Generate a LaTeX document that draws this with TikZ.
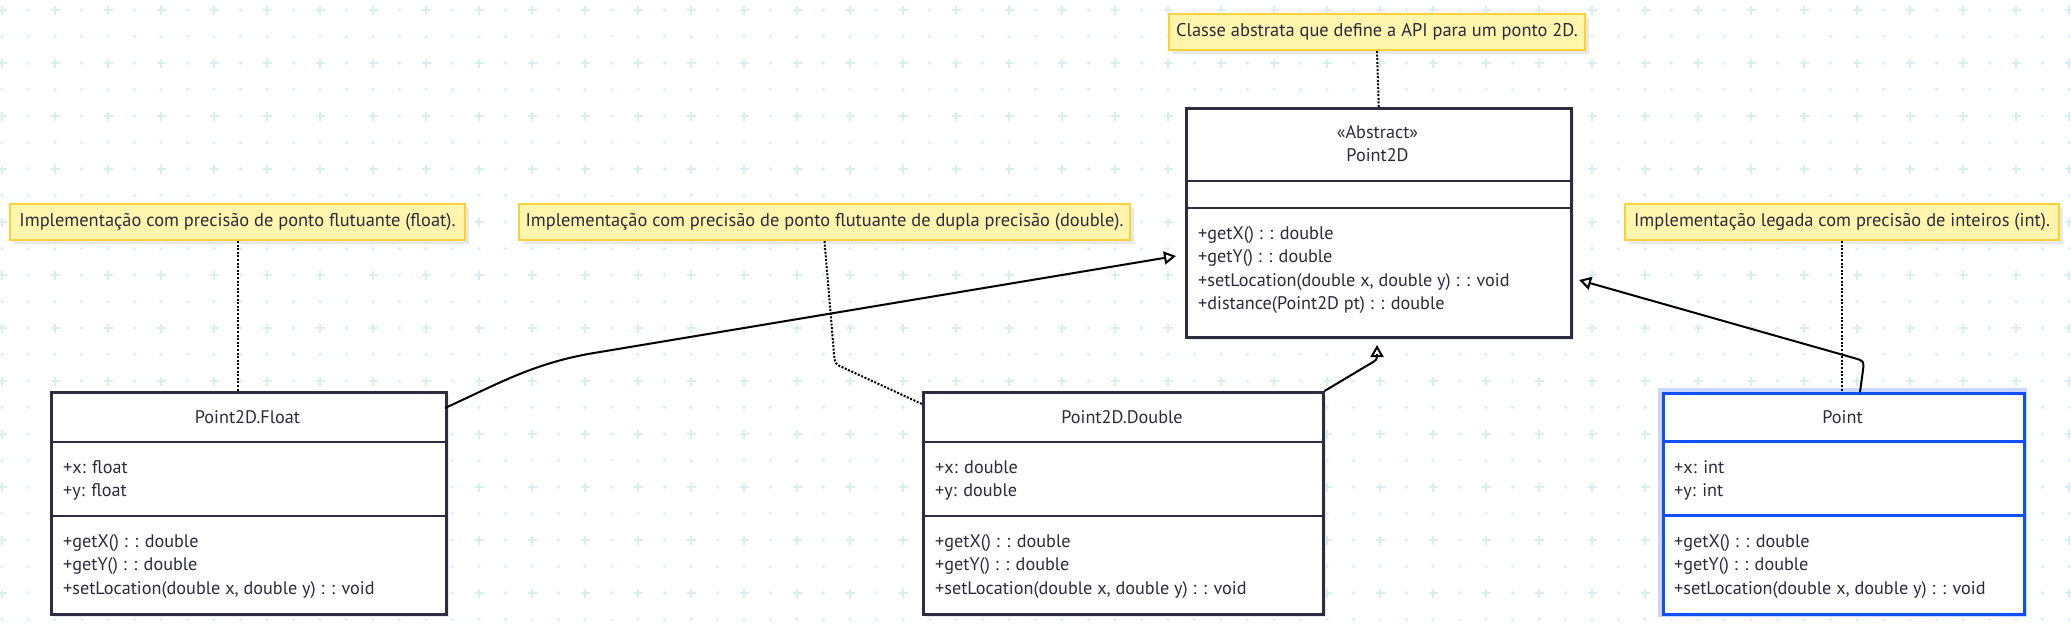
\documentclass[tikz,border=0pt]{standalone}
\usepackage{fontspec}
\setmainfont{PT Sans}
\usetikzlibrary{arrows.meta}
\definecolor{gridc}{HTML}{D8EEF1}
\definecolor{notefill}{HTML}{FFF5AD}
\definecolor{noteborder}{HTML}{F7D23A}
\definecolor{ink}{HTML}{2C2B3C}
\definecolor{boxline}{HTML}{2E2C40}
\definecolor{pblue}{HTML}{1050F5}
\begin{document}
\begin{tikzpicture}[x=1pt,y=-1pt,
  font=\fontsize{18.2}{21}\selectfont,
  txt/.style={text=ink, inner sep=0pt, anchor=west, text height=12.5pt, text depth=4pt},
  ctxt/.style={text=ink, inner sep=0pt, anchor=center, text height=12.5pt, text depth=4pt},
  umlbox/.style={draw=boxline, line width=2.5pt, fill=white, anchor=north west, inner sep=0pt},
  notebox/.style={draw=noteborder, line width=2pt, fill=notefill, text=ink, inner sep=0pt, minimum height=36pt, anchor=center, font=\fontsize{18.4}{21}\selectfont},
  shadowc/.style={fill=black!9},
  divider/.style={draw=boxline, line width=2.5pt},
  inh/.style={draw=black, line width=2pt, -{Triangle[open, length=12pt, width=13pt, line width=2pt]}},
  noteline/.style={draw=black, line width=2pt, dash pattern=on 2pt off 1.6pt}
]
\useasboundingbox (0,0) rectangle (2071,633);
\fill[white] (0,0) rectangle (2071,633);
% background grid
\foreach \i in {0,...,39} {
  \foreach \j in {0,...,11} {
    \pgfmathsetmacro{\gx}{2+53*\i}
    \pgfmathsetmacro{\gy}{10+53*\j}
    \draw[gridc, line width=2.2pt] (\gx-4.5,\gy) -- (\gx+4.5,\gy) (\gx,\gy-4.5) -- (\gx,\gy+4.5);
    \fill[gridc] (\gx+26.5,\gy) circle (1.7);
    \fill[gridc] (\gx,\gy+26.5) circle (1.7);
    \fill[gridc] (\gx+26.5,\gy+26.5) circle (1.7);
  }
}
% shadows
\fill[shadowc] (1189,111) rectangle (1574,340);
\fill[shadowc] (54,395) rectangle (449,617);
\fill[shadowc] (926,395) rectangle (1326,617);
\fill[shadowc] (1666,396) rectangle (2027,617);
\fill[shadowc] (1173,18) rectangle (1589,54);
\fill[shadowc] (14,208) rectangle (469,244);
\fill[shadowc] (523,208) rectangle (1134,244);
\fill[shadowc] (1629,208) rectangle (2063,244);

% notes
\node[notebox, minimum width=416pt] (tnote) at (1377,32) {Classe abstrata que define a API para um ponto 2D.};
\node[notebox, minimum width=455pt] (fnote) at (237.5,222) {Implementação com precisão de ponto flutuante (float).};
\node[notebox, minimum width=611pt] (dnote) at (824.5,222) {Implementação com precisão de ponto flutuante de dupla precisão (double).};
\node[notebox, minimum width=434pt] (pnote) at (1842,222) {Implementação legada com precisão de inteiros (int).};

% Point2D
\node[umlbox, minimum width=385pt, minimum height=229pt] (p2d) at (1185,107) {};
\draw[divider] (1185,181) -- (1570,181);
\draw[divider] (1185,208) -- (1570,208);
\node[ctxt] (p2dst) at (1377.5,134) {«Abstract»};
\node[ctxt] (p2dname) at (1377.5,157) {Point2D};
\node[txt] (p2dm1) at (1198,235) {+getX() : : double};
\node[txt] (p2dm2) at (1198,258) {+getY() : : double};
\node[txt] (p2dm3) at (1198,282) {+setLocation(double x, double y) : : void};
\node[txt] (p2dm4) at (1198,305) {+distance(Point2D pt) : : double};

% Point2D.Float
\node[umlbox, minimum width=395pt, minimum height=222pt] (fl) at (50,391) {};
\draw[divider] (50,442) -- (445,442);
\draw[divider] (50,516) -- (445,516);
\node[ctxt] (flname) at (247.5,419) {Point2D.Float};
\node[txt] (fla1) at (63,469) {+x: float};
\node[txt] (fla2) at (63,492) {+y: float};
\node[txt] (flm1) at (63,543) {+getX() : : double};
\node[txt] (flm2) at (63,566) {+getY() : : double};
\node[txt] (flm3) at (63,590) {+setLocation(double x, double y) : : void};

% Point2D.Double
\node[umlbox, minimum width=400pt, minimum height=222pt] (db) at (922,391) {};
\draw[divider] (922,442) -- (1322,442);
\draw[divider] (922,516) -- (1322,516);
\node[ctxt] (dbname) at (1122,419) {Point2D.Double};
\node[txt] (dba1) at (935,469) {+x: double};
\node[txt] (dba2) at (935,492) {+y: double};
\node[txt] (dbm1) at (935,543) {+getX() : : double};
\node[txt] (dbm2) at (935,566) {+getY() : : double};
\node[txt] (dbm3) at (935,590) {+setLocation(double x, double y) : : void};

% Point
\draw[pblue!22, line width=8pt] (1662,392) rectangle (2023,613);
\node[umlbox, draw=pblue, line width=3pt, minimum width=361pt, minimum height=221pt] (pt) at (1662,392) {};
\draw[pblue, line width=3pt] (1662,441) -- (2023,441);
\draw[pblue, line width=3pt] (1662,515) -- (2023,515);
\node[ctxt] (ptname) at (1842.5,419) {Point};
\node[txt] (pta1) at (1674,469) {+x: int};
\node[txt] (pta2) at (1674,492) {+y: int};
\node[txt] (ptm1) at (1674,543) {+getX() : : double};
\node[txt] (ptm2) at (1674,566) {+getY() : : double};
\node[txt] (ptm3) at (1674,590) {+setLocation(double x, double y) : : void};

% note connectors
\draw[noteline] (tnote.south) -- (p2d.north);
\draw[noteline] (fnote.south) -- (fnote.south |- fl.north);
\coordinate (dE) at (922,404);
\draw[noteline] (dnote.south) -- (834,354) .. controls (835,364) .. (844,368) -- (dE);
\draw[noteline] (pnote.south) -- (pnote.south |- pt.north);

% inheritance connectors
\coordinate (fA) at (445,408);
\coordinate (fT) at (1176,256);
\draw[inh] (fA) .. controls (500,383) and (535,362) .. (600,352) -- (fT);
\coordinate (dT) at (1377,345);
\draw[inh] (db.north east) -- (1368,365) .. controls (1377,360) .. (1377,354) -- (dT);
\coordinate (pA) at (1860,392);
\coordinate (pT) at (1579,280);
\draw[inh] (pA) -- (1863,370) .. controls (1864,361) .. (1854,358) -- (pT);
\end{tikzpicture}
\end{document}
